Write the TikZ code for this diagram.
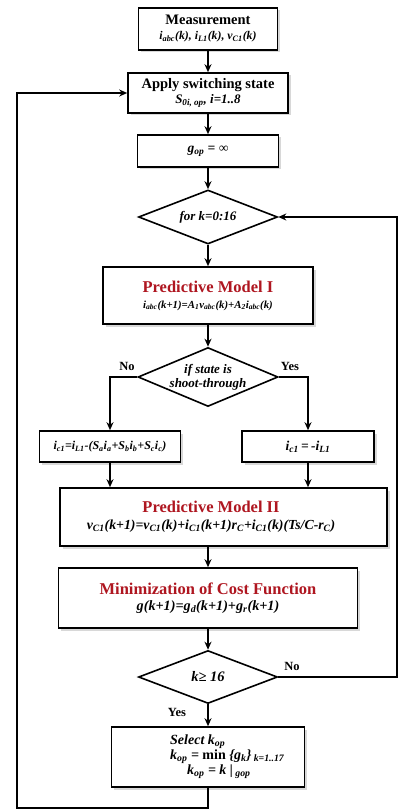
\documentclass[tikz,border=0pt]{standalone}
\usepackage{fontspec}
\setmainfont{Liberation Serif}
\usetikzlibrary{shapes.geometric,arrows.meta,shadows}
\newcommand{\sbt}[1]{\textsubscript{#1}}
\definecolor{titlered}{RGB}{175,22,32}
\newcommand{\ttl}[1]{{\fontsize{16.5}{19}\selectfont\upshape\color{titlered}#1}}
\newcommand{\hd}[1]{{\fontsize{14.5}{16}\selectfont\upshape #1}}
\newcommand{\fs}[1]{\fontsize{#1}{#1}\selectfont}
\begin{document}
\begin{tikzpicture}[x=1pt,y=-1pt,
  box/.style={draw, line width=1.6pt, rectangle, inner sep=0pt, fill=white, align=center,
    font=\fontsize{12.5}{15}\selectfont\bfseries\itshape,
    drop shadow={shadow xshift=2.5pt, shadow yshift=-2.5pt, opacity=0.3}},
  dia/.style={draw, line width=1.6pt, diamond, inner sep=0pt, fill=white},
  dtext/.style={align=center, font=\fontsize{13}{14}\selectfont\bfseries\itshape, inner sep=0pt},
  tx/.style={font=\fontsize{12.5}{15}\selectfont\bfseries\itshape, inner sep=0pt},
  flow/.style={line width=1.5pt, -{Stealth[length=8pt,width=7pt]}},
  plain/.style={line width=1.5pt},
  lbl/.style={font=\fontsize{12.5}{14}\selectfont\bfseries, inner sep=0pt}]
\useasboundingbox (0,0) rectangle (398,810);
\fill[white] (0,0) rectangle (398,810);

\node[box, minimum width=139pt, minimum height=42pt] (meas) at (208,29)
  {\hd{Measurement}\\ {\fs{11.8}i\sbt{abc}(k), i\sbt{L1}(k), v\sbt{C1}(k)}};
\node[box, minimum width=160pt, minimum height=40pt] (apply) at (208,93)
  {\hd{Apply switching state}\\ {\fs{13}S\sbt{0i, op}, i=1..8}};
\node[box, minimum width=141pt, minimum height=32pt, font=\fontsize{13.5}{15}\selectfont\bfseries\itshape] (gop) at (208,151)
  {g\sbt{op} = ∞};
\node[dia, minimum width=139pt, minimum height=54pt] (d1) at (208,217) {};
\node[dtext] (d1t) at (d1) {for k=0:16};
\node[box, minimum width=210pt, minimum height=57pt] (p1) at (208,295.5)
  {\ttl{Predictive Model I}\\[1pt] {\fs{10.8}i\sbt{abc}(k+1)=A\sbt{1}v\sbt{abc}(k)+A\sbt{2}i\sbt{abc}(k)}};
\node[dia, minimum width=140pt, minimum height=59pt] (d2) at (208,377) {};
\node[dtext] (d2t) at (d2) {if state is\\ shoot-through};
\node[box, minimum width=141pt, minimum height=31pt, font=\fontsize{12}{15}\selectfont\bfseries\itshape] (lbox) at (110,446.5)
  {i\sbt{c1}=i\sbt{L1}-(S\sbt{a}i\sbt{a}+S\sbt{b}i\sbt{b}+S\sbt{c}i\sbt{c})};
\node[box, minimum width=132pt, minimum height=31pt, font=\fontsize{13.5}{15}\selectfont\bfseries\itshape] (rbox) at (308,446.5)
  {i\sbt{c1}\,=\,-i\sbt{L1}};
\node[box, minimum width=327pt, minimum height=58pt] (p2) at (223.5,517) {};
\node[tx, align=center] (p2t) at (211,517)
  {\ttl{Predictive Model II}\\[2pt] {\fs{13.8}v\sbt{C1}(k+1)=v\sbt{C1}(k)+i\sbt{C1}(k+1)r\sbt{C}+i\sbt{C1}(k)(Ts/C-r\sbt{C})}};
\node[box, minimum width=299pt, minimum height=60pt] (min) at (208,598)
  {\ttl{Minimization of Cost Function}\\[1pt] {\fs{14.2}g(k+1)=g\sbt{d}(k+1)+g\sbt{r}(k+1)}};
\node[dia, minimum width=139pt, minimum height=53pt] (d3) at (208,677) {};
\node[dtext, font=\fontsize{14.5}{15}\selectfont\bfseries\itshape] (d3t) at (d3) {k≥ 16};
\node[box, minimum width=193pt, minimum height=60pt] (sel) at (208,757) {};
\node[tx, align=left, anchor=west, font=\fontsize{14}{15}\selectfont\bfseries\itshape] (selt) at (170,757)
  {Select k\sbt{op}\\ k\sbt{op} = {\upshape min} \{g\sbt{k}\}\,\sbt{k=1..17}\\ \hspace*{17pt}k\sbt{op} = k \textbar\,\sbt{gop}};

\coordinate (rt) at (397,0);
\coordinate (bl) at (17,808);

\draw[flow] (meas) -- (apply);
\draw[flow] (apply) -- (gop);
\draw[flow] (gop) -- (d1);
\draw[flow] (d1) -- (p1);
\draw[flow] (p1) -- (d2);
\draw[flow] (d2.west) -| (lbox.north);
\draw[flow] (d2.east) -| (rbox.north);
\draw[flow] (lbox.south) -- (lbox.south |- p2.north);
\draw[flow] (rbox.south) -- (rbox.south |- p2.north);
\draw[flow] (min.north |- p2.south) -- (min.north);
\draw[flow] (min) -- (d3);
\draw[flow] (d3) -- (sel);
\draw[flow] (d3.east) -| (d1.east -| rt) -- (d1.east);
\draw[flow] (sel.south) |- (bl) |- (apply.west);

\node[lbl] (no1) at (127,366) {No};
\node[lbl] (yes1) at (290,366) {Yes};
\node[lbl] (no2) at (292,666) {No};
\node[lbl] (yes2) at (177,712) {Yes};
\end{tikzpicture}
\end{document}
